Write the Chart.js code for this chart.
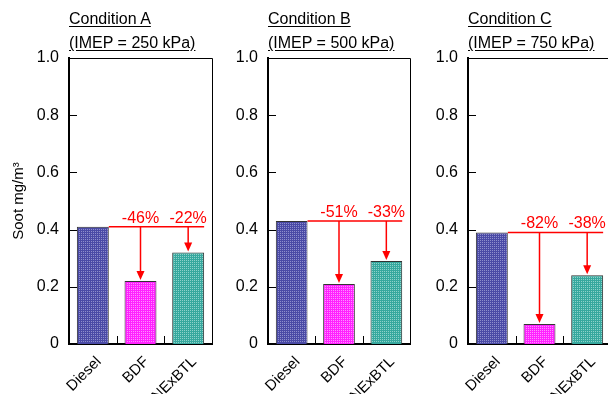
<!DOCTYPE html>
<html>
<head>
<meta charset="utf-8">
<script src="https://cdn.jsdelivr.net/npm/chart.js@4"></script>
<style>
  html, body { margin: 0; padding: 0; background: #fff; }
  body { width: 608px; height: 394px; position: relative; overflow: hidden; font-family: "Liberation Sans", Arial, sans-serif; }
  canvas { position: absolute; top: 0; }
  .cond { position: absolute; top: 7px; font-size: 16px; line-height: 24px; color: #000; text-decoration: underline; text-underline-offset: 2px; white-space: nowrap; }
</style>
</head>
<body>
<canvas id="chartA" width="214" height="394" style="left:0px"></canvas>
<canvas id="chartB" width="198" height="394" style="left:214px"></canvas>
<canvas id="chartC" width="204" height="394" style="left:410px"></canvas>
<div class="cond" style="left:69px"><div>Condition A</div><div>(IMEP = 250 kPa)</div></div>
<div class="cond" style="left:268px"><div>Condition B</div><div>(IMEP = 500 kPa)</div></div>
<div class="cond" style="left:468px"><div>Condition C</div><div>(IMEP = 750 kPa)</div></div>
<script>
        const categories = ['Diesel', 'BDF', 'NExBTL'];
        const yTicks = [0, 0.2, 0.4, 0.6, 0.8, 1.0];

        const sootA = [0.41, 0.22, 0.32];
        const sootB = [0.43, 0.21, 0.29];
        const sootC = [0.39, 0.07, 0.24];

        const reductionA = ['-46%', '-22%'];
        const reductionB = ['-51%', '-33%'];
        const reductionC = ['-82%', '-38%'];

        const barColors = ['#4a4aa6', '#ff22ff', '#36a89e'];
        const dotColors = ['#8e8ecc', '#ff90ff', '#8ed2ca'];

        const FONT = '"Liberation Sans", Arial, sans-serif';

        const panelPlugin = {
            id: 'panelPlugin',
            afterDatasetsDraw(chart) {
                const ctx = chart.ctx;
                const area = chart.chartArea;
                const yScale = chart.scales.y;
                const bars = chart.getDatasetMeta(0).data;

                ctx.save();
                // light dot texture on top of the bars
                bars.forEach((bar, i) => {
                    ctx.fillStyle = dotColors[i];
                    const l = Math.round(bar.x - bar.width / 2) + 1;
                    const r = Math.round(bar.x + bar.width / 2) - 1;
                    const t = Math.round(bar.y) + 1;
                    const b = Math.round(bar.base) - 1;
                    for (let py = t + 1; py < b; py += 2) {
                        for (let px = l + 1; px < r; px += 2) {
                            ctx.fillRect(px, py, 1, 1);
                        }
                    }
                });

                // frame top and right
                ctx.strokeStyle = '#000';
                ctx.lineWidth = 1;
                ctx.beginPath();
                ctx.moveTo(area.left, area.top + 0.5);
                ctx.lineTo(area.right + 0.5, area.top + 0.5);
                ctx.lineTo(area.right + 0.5, area.bottom);
                ctx.stroke();

                // inward ticks
                ctx.beginPath();
                yTicks.forEach(v => {
                    const py = Math.round(yScale.getPixelForValue(v)) + 0.5;
                    ctx.moveTo(area.left, py);
                    ctx.lineTo(area.left + 8, py);
                });
                for (let i = 0; i < bars.length - 1; i++) {
                    const px = Math.round((bars[i].x + bars[i + 1].x) / 2) + 0.5;
                    ctx.moveTo(px, area.bottom);
                    ctx.lineTo(px, area.bottom - 8);
                }
                ctx.stroke();

                // reduction arrows
                const texts = chart.options.plugins.panelPlugin.reductions;
                const refY = bars[0].y;
                const x0 = bars[0].x + bars[0].width / 2;
                const x1 = bars[2].x + bars[2].width / 2;
                ctx.strokeStyle = '#ff0000';
                ctx.fillStyle = '#ff0000';
                ctx.lineWidth = 1.5;
                ctx.beginPath();
                ctx.moveTo(x0, refY);
                ctx.lineTo(x1, refY);
                ctx.stroke();

                ctx.font = '16px ' + FONT;
                ctx.textAlign = 'center';
                ctx.textBaseline = 'alphabetic';
                for (let i = 1; i < bars.length; i++) {
                    const bx = bars[i].x;
                    const by = bars[i].y;
                    ctx.beginPath();
                    ctx.moveTo(bx, refY);
                    ctx.lineTo(bx, by - 9);
                    ctx.stroke();
                    ctx.beginPath();
                    ctx.moveTo(bx - 4, by - 10);
                    ctx.lineTo(bx + 4, by - 10);
                    ctx.lineTo(bx, by - 1);
                    ctx.closePath();
                    ctx.fill();
                    ctx.fillText(texts[i - 1], bx, refY - 4);
                }
                ctx.restore();
            }
        };

        function drawPanel(id, values, reductions, axisWidth, padRight, showTitle) {
            const ctx = document.getElementById(id).getContext('2d');
            return new Chart(ctx, {
                type: 'bar',
                data: {
                    labels: categories,
                    datasets: [{
                        data: values,
                        backgroundColor: barColors,
                        borderColor: '#333',
                        borderWidth: 1,
                        borderSkipped: 'bottom',
                        categoryPercentage: 1,
                        barPercentage: 0.67
                    }]
                },
                options: {
                    responsive: false,
                    animation: false,
                    devicePixelRatio: 1,
                    layout: { padding: { top: 58, right: padRight, left: 0, bottom: 0 } },
                    plugins: {
                        legend: { display: false },
                        tooltip: { enabled: false },
                        panelPlugin: { reductions: reductions }
                    },
                    scales: {
                        x: {
                            grid: { display: false, drawTicks: false },
                            border: { display: true, color: '#000', width: 2 },
                            ticks: {
                                color: '#000',
                                font: { family: FONT, size: 15 },
                                maxRotation: 45,
                                minRotation: 45,
                                padding: 9,
                                labelOffset: 6
                            },
                            afterFit(scale) { scale.height = 50; }
                        },
                        y: {
                            min: 0,
                            max: 1,
                            grid: { display: false, drawTicks: false },
                            border: { display: true, color: '#000', width: 2 },
                            ticks: {
                                stepSize: 0.2,
                                color: '#000',
                                padding: 10,
                                font: { family: FONT, size: 16 },
                                callback: v => v === 0 ? '0' : v.toFixed(1)
                            },
                            title: {
                                display: showTitle,
                                text: 'Soot mg/m³',
                                color: '#000',
                                font: { family: FONT, size: 15 },
                                padding: { top: 10, bottom: 0 }
                            },
                            afterFit(scale) { scale.width = axisWidth; }
                        }
                    }
                },
                plugins: [panelPlugin]
            });
        }

        drawPanel('chartA', sootA, reductionA, 69, 2, true);
        drawPanel('chartB', sootB, reductionB, 54, 2, false);
        drawPanel('chartC', sootC, reductionC, 58, 3, false);
</script>
</body>
</html>
